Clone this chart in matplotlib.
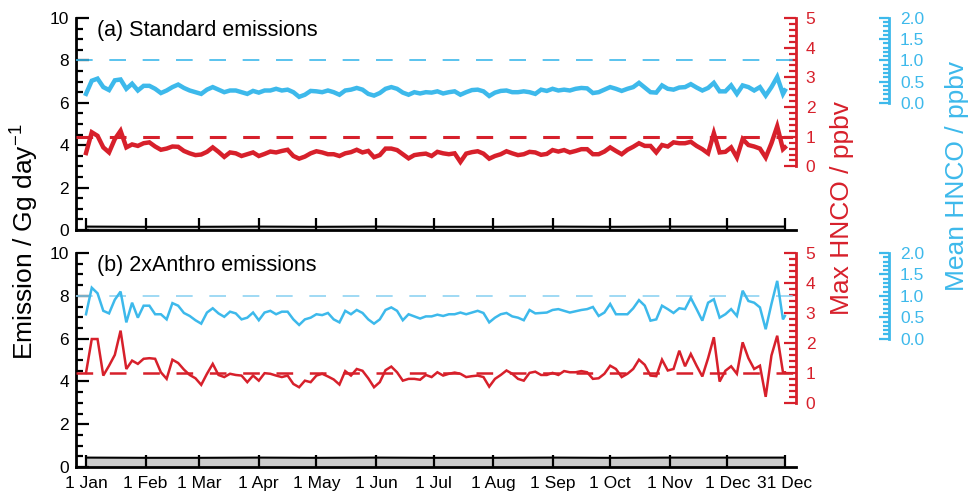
import matplotlib.pyplot as plt
from matplotlib.ticker import FixedLocator, FormatStrFormatter

plt.rcParams['font.family'] = ['Liberation Sans', 'DejaVu Sans']
plt.rcParams['mathtext.fontset'] = 'custom'
plt.rcParams['mathtext.rm'] = 'Liberation Sans'
plt.rcParams['lines.scale_dashes'] = False

RED = '#d7202b'
BLUE = '#3db9eb'

# sampling days (day of year, every 3 days)
days = list(range(0, 364, 3)) + [364]

# (a) standard emissions
red_a = [0.45, 1.15, 1.03, 0.64, 0.47, 0.92, 1.20, 0.64, 0.74, 0.69,
         0.78, 0.81, 0.67, 0.56, 0.60, 0.67, 0.66, 0.52, 0.44, 0.38,
         0.40, 0.49, 0.64, 0.49, 0.32, 0.47, 0.44, 0.35, 0.41, 0.47,
         0.35, 0.42, 0.50, 0.47, 0.52, 0.56, 0.35, 0.26, 0.33, 0.44,
         0.51,
         0.47, 0.41, 0.41, 0.35, 0.44, 0.48, 0.56, 0.47, 0.52, 0.31,
         0.38, 0.60, 0.60, 0.55, 0.41, 0.27, 0.38, 0.41, 0.43, 0.35,
         0.49, 0.44, 0.41, 0.44, 0.15, 0.43, 0.48, 0.51, 0.43, 0.26,
         0.35, 0.41, 0.51, 0.44, 0.38, 0.41, 0.49, 0.47, 0.39, 0.42,
         0.55,
         0.50, 0.55, 0.47, 0.52, 0.58, 0.58, 0.41, 0.41, 0.50, 0.64,
         0.52, 0.41, 0.56, 0.66, 0.78, 0.69, 0.69, 0.47, 0.72, 0.67,
         0.81, 0.78, 0.78, 0.83, 0.69, 0.58, 0.44, 1.12, 0.47, 0.49,
         0.64, 0.30, 0.92, 0.72, 0.67, 0.60, 0.30, 0.78, 1.35, 0.58,
         0.64]
blue_a = [0.21, 0.52, 0.57, 0.37, 0.30, 0.53, 0.55, 0.33, 0.45, 0.29,
          0.40, 0.40, 0.33, 0.23, 0.29, 0.37, 0.43, 0.35, 0.29, 0.25,
          0.21, 0.31, 0.37, 0.31, 0.25, 0.29, 0.29, 0.25, 0.21, 0.28,
          0.24, 0.29, 0.29, 0.33, 0.29, 0.31, 0.25, 0.14, 0.19, 0.28,
          0.27,
          0.25, 0.29, 0.25, 0.19, 0.29, 0.31, 0.35, 0.31, 0.21, 0.17,
          0.23, 0.33, 0.37, 0.33, 0.24, 0.19, 0.25, 0.22, 0.25, 0.24,
          0.27, 0.22, 0.25, 0.27, 0.19, 0.25, 0.30, 0.31, 0.27, 0.16,
          0.24, 0.28, 0.29, 0.25, 0.25, 0.27, 0.25, 0.21, 0.31, 0.28,
          0.33,
          0.29, 0.31, 0.29, 0.33, 0.35, 0.34, 0.23, 0.25, 0.31, 0.37,
          0.33, 0.28, 0.33, 0.37, 0.47, 0.36, 0.25, 0.24, 0.41, 0.33,
          0.31, 0.36, 0.37, 0.44, 0.36, 0.29, 0.35, 0.47, 0.27, 0.27,
          0.41, 0.21, 0.41, 0.37, 0.29, 0.37, 0.17, 0.37, 0.61, 0.21,
          0.29]

# (b) 2xAnthro emissions
red_b = [1.00, 2.13, 2.13, 0.91, 1.24, 1.60, 2.41, 1.13, 1.41, 1.30,
         1.47, 1.49, 1.47, 1.02, 0.80, 1.44, 1.33, 1.11, 0.93, 0.82,
         0.60, 0.97, 1.30, 0.93, 0.86, 0.97, 0.93, 0.91, 0.69, 0.91,
         0.74, 0.99, 0.97, 0.91, 0.86, 0.91, 0.63, 0.52, 0.74, 0.69,
         0.91,
         0.97, 0.88, 0.78, 0.61, 1.06, 0.91, 1.13, 1.07, 0.82, 0.52,
         0.69, 1.09, 1.21, 1.02, 0.74, 0.80, 0.80, 0.77, 0.93, 0.86,
         1.02, 0.91, 0.97, 1.01, 0.97, 0.86, 0.89, 0.91, 0.86, 0.54,
         0.80, 0.93, 1.08, 0.97, 0.80, 0.74, 1.00, 1.04, 0.93, 0.93,
         1.00,
         0.93, 1.06, 1.02, 1.02, 1.06, 1.02, 0.80, 0.82, 0.97, 1.24,
         1.13, 0.86, 0.97, 1.13, 1.44, 1.27, 0.91, 0.89, 1.44, 1.08,
         1.13, 1.74, 1.22, 1.63, 1.24, 0.88, 1.49, 2.19, 0.71, 1.07,
         1.22, 0.97, 2.02, 1.49, 1.13, 1.24, 0.20, 1.58, 2.24, 1.02,
         1.02]
blue_b = [0.57, 1.19, 1.06, 0.65, 0.59, 0.91, 1.10, 0.38, 0.84, 0.49,
          0.77, 0.77, 0.57, 0.57, 0.45, 0.83, 0.77, 0.60, 0.53, 0.43,
          0.35, 0.61, 0.71, 0.59, 0.51, 0.63, 0.59, 0.45, 0.49, 0.61,
          0.43, 0.61, 0.65, 0.57, 0.63, 0.63, 0.45, 0.32, 0.45, 0.49,
          0.57,
          0.55, 0.60, 0.45, 0.38, 0.65, 0.57, 0.67, 0.60, 0.45, 0.35,
          0.45, 0.67, 0.73, 0.65, 0.43, 0.57, 0.52, 0.47, 0.52, 0.52,
          0.56, 0.53, 0.57, 0.57, 0.61, 0.57, 0.61, 0.65, 0.60, 0.38,
          0.49, 0.57, 0.60, 0.52, 0.49, 0.43, 0.67, 0.59, 0.60, 0.61,
          0.67,
          0.69, 0.65, 0.61, 0.64, 0.67, 0.69, 0.74, 0.53, 0.61, 0.81,
          0.57, 0.57, 0.57, 0.71, 0.90, 0.77, 0.42, 0.45, 0.77, 0.69,
          0.60, 0.71, 0.69, 0.95, 0.69, 0.42, 0.84, 0.92, 0.49, 0.57,
          0.69, 0.53, 1.12, 0.88, 0.84, 0.73, 0.22, 0.81, 1.35, 0.45,
          0.53]

# emission totals (Gg/day), monthly
month_days = [0, 31, 59, 90, 120, 151, 181, 212, 243, 273, 304, 334, 364]
month_labels = ['1 Jan', '1 Feb', '1 Mar', '1 Apr', '1 May', '1 Jun', '1 Jul',
                '1 Aug', '1 Sep', '1 Oct', '1 Nov', '1 Dec', '31 Dec']
emis_a = [0.16, 0.15, 0.15, 0.16, 0.15, 0.16, 0.15, 0.15, 0.16, 0.15, 0.16, 0.16, 0.16]
emis_b = [0.44, 0.43, 0.43, 0.44, 0.43, 0.44, 0.43, 0.43, 0.44, 0.43, 0.44, 0.44, 0.44]

threshold = 1.0  # ppbv

fig = plt.figure(figsize=(9.71, 4.93), dpi=100)

panels = [
    ([0.0783, 0.5335, 0.7415, 0.430], '(a) Standard emissions', red_a, blue_a, emis_a, 3.2, False),
    ([0.0783, 0.0527, 0.7415, 0.434], '(b) 2xAnthro emissions', red_b, blue_b, emis_b, 1.8, True),
]

for rect, title, red, blue, emis, lw, bottom in panels:
    ax = fig.add_axes(rect)
    ax.set_xlim(-5.2, 369.8)
    ax.set_ylim(0, 10)
    ax.fill_between(month_days, 0, emis, color='#cccccc', lw=0)
    ax.plot(month_days, emis, color='black', lw=1.5)
    for s in ['top', 'right']:
        ax.spines[s].set_visible(False)
    for s in ['left', 'bottom']:
        ax.spines[s].set_linewidth(2)
    ax.set_yticks([0, 2, 4, 6, 8, 10])
    ax.yaxis.set_minor_locator(FixedLocator([v / 2 for v in range(21)]))
    ax.tick_params(axis='y', which='major', direction='in', length=9, width=1.6, labelsize=12.5, pad=5)
    ax.tick_params(axis='y', which='minor', direction='in', length=5, width=1.6)
    ax.set_xticks(month_days)
    ax.tick_params(axis='x', direction='in', length=8.5, width=1.6, labelsize=12.5, pad=6.5)
    if bottom:
        ax.set_xticklabels(month_labels)
    else:
        ax.set_xticklabels([])
    ax.text(0.029, 0.943, title, transform=ax.transAxes, fontsize=15.5, va='center', ha='left')

    # Max HNCO axis (red)
    axr = ax.twinx()
    axr.set_ylim(-15 / 7, 5)
    for s in ['top', 'left', 'bottom']:
        axr.spines[s].set_visible(False)
    axr.spines['right'].set_bounds(0, 5)
    axr.spines['right'].set_color(RED)
    axr.spines['right'].set_linewidth(2)
    axr.yaxis.set_major_locator(FixedLocator([0, 1, 2, 3, 4, 5]))
    axr.yaxis.set_minor_locator(FixedLocator([v / 5 for v in range(26)]))
    axr.tick_params(axis='y', which='major', direction='in', length=9, width=1.6,
                    colors=RED, labelsize=12.5, pad=7)
    axr.tick_params(axis='y', which='minor', direction='in', length=5, width=1.6, colors=RED)
    axr.axhline(threshold, color=RED, lw=2.2 if not bottom else 1.8, dashes=(12, 12))
    axr.plot(days, red, color=RED, lw=lw, solid_joinstyle='miter')

    # Mean HNCO axis (blue)
    axb = ax.twinx()
    axb.set_ylim(-3, 2)
    for s in ['top', 'left', 'bottom']:
        axb.spines[s].set_visible(False)
    axb.spines['right'].set_position(('axes', 1.129))
    axb.spines['right'].set_bounds(0, 2)
    axb.spines['right'].set_color(BLUE)
    axb.spines['right'].set_linewidth(2)
    axb.yaxis.set_major_locator(FixedLocator([0, 0.5, 1.0, 1.5, 2.0]))
    axb.yaxis.set_minor_locator(FixedLocator([v / 10 for v in range(21)]))
    axb.yaxis.set_major_formatter(FormatStrFormatter('%.1f'))
    axb.tick_params(axis='y', which='major', direction='in', length=7.5, width=1.6,
                    colors=BLUE, labelsize=12.5, pad=8)
    axb.tick_params(axis='y', which='minor', direction='in', length=4, width=1.6, colors=BLUE)
    axb.axhline(threshold, color=BLUE if not bottom else '#8fd3f2', lw=1.2, dashes=(12, 12))
    axb.plot(days, blue, color=BLUE, lw=lw, solid_joinstyle='miter')

fig.text(0.024, 0.51, 'Emission / Gg day$^{\\mathrm{-1}}$', rotation=90, fontsize=19,
         ha='center', va='center')
fig.text(0.867, 0.578, 'Max HNCO / ppbv', rotation=90, fontsize=19, color=RED,
         ha='center', va='center')
fig.text(0.9855, 0.643, 'Mean HNCO / ppbv', rotation=90, fontsize=19, color=BLUE,
         ha='center', va='center')

fig.savefig('out.png', dpi=100)
